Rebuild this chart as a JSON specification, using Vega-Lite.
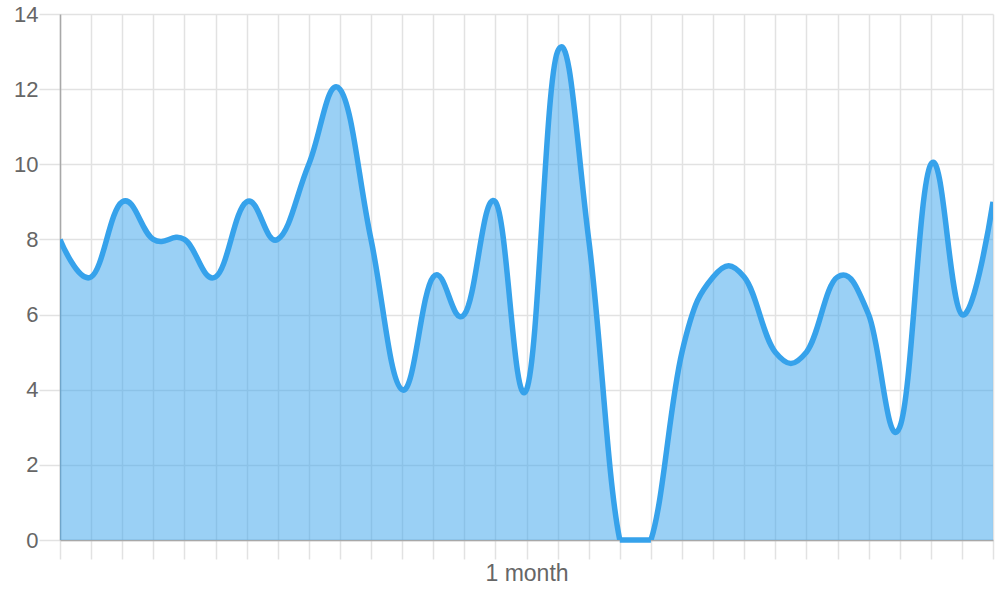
{
  "$schema": "https://vega.github.io/schema/vega-lite/v6.json",
  "width": 933,
  "height": 526,
  "autosize": {"type": "none"},
  "padding": {"left": 60, "top": 14, "right": 7, "bottom": 60},
  "config": {"view": {"stroke": null}, "font": "Liberation Sans"},
  "data": {
    "values": [
      {"day": 0, "value": 8}, {"day": 1, "value": 7}, {"day": 2, "value": 9}, {"day": 3, "value": 8},
      {"day": 4, "value": 8}, {"day": 5, "value": 7}, {"day": 6, "value": 9}, {"day": 7, "value": 8},
      {"day": 8, "value": 10}, {"day": 9, "value": 12}, {"day": 10, "value": 8}, {"day": 11, "value": 4},
      {"day": 12, "value": 7}, {"day": 13, "value": 6}, {"day": 14, "value": 9}, {"day": 15, "value": 4},
      {"day": 16, "value": 13}, {"day": 17, "value": 8}, {"day": 18, "value": 0}, {"day": 19, "value": 0},
      {"day": 20, "value": 5}, {"day": 21, "value": 7}, {"day": 22, "value": 7}, {"day": 23, "value": 5},
      {"day": 24, "value": 5}, {"day": 25, "value": 7}, {"day": 26, "value": 6}, {"day": 27, "value": 3},
      {"day": 28, "value": 10}, {"day": 29, "value": 6}, {"day": 30, "value": 9}
    ]
  },
  "encoding": {
    "x": {
      "field": "day",
      "type": "quantitative",
      "scale": {"domain": [0, 30], "nice": false, "zero": false},
      "axis": {
        "values": [0,1,2,3,4,5,6,7,8,9,10,11,12,13,14,15,16,17,18,19,20,21,22,23,24,25,26,27,28,29,30],
        "labels": false,
        "title": "1 month",
        "titleFont": "Liberation Sans",
        "titleFontSize": 23,
        "titleFontWeight": "normal",
        "titleColor": "#666666",
        "titlePadding": 3,
        "tickSize": 19,
        "tickColor": "#e2e2e2",
        "tickWidth": 1.5,
        "gridColor": "#e2e2e2",
        "gridWidth": 1.5,
        "domainColor": "#a8a8a8",
        "domainWidth": 1.5
      }
    },
    "y": {
      "field": "value",
      "type": "quantitative",
      "scale": {"domain": [0, 14], "nice": false},
      "axis": {
        "values": [0, 2, 4, 6, 8, 10, 12, 14],
        "title": null,
        "labelFont": "Liberation Sans",
        "labelFontSize": 22,
        "labelColor": "#666666",
        "labelPadding": 1,
        "tickSize": 21,
        "tickColor": "#e2e2e2",
        "tickWidth": 1.5,
        "gridColor": "#e2e2e2",
        "gridWidth": 1.5,
        "domainColor": "#a8a8a8",
        "domainWidth": 1.5
      }
    }
  },
  "layer": [
    {"mark": {"type": "area", "interpolate": "cardinal", "tension": -0.2, "color": "#36A2EB", "opacity": 0.5, "clip": true}},
    {"mark": {"type": "line", "interpolate": "cardinal", "tension": -0.2, "color": "#36A2EB", "strokeWidth": 5.5, "clip": true}},
    {
      "transform": [{"filter": "datum.value == 0"}],
      "mark": {"type": "line", "interpolate": "linear", "color": "#36A2EB", "strokeWidth": 5.5, "clip": false}
    }
  ]
}
